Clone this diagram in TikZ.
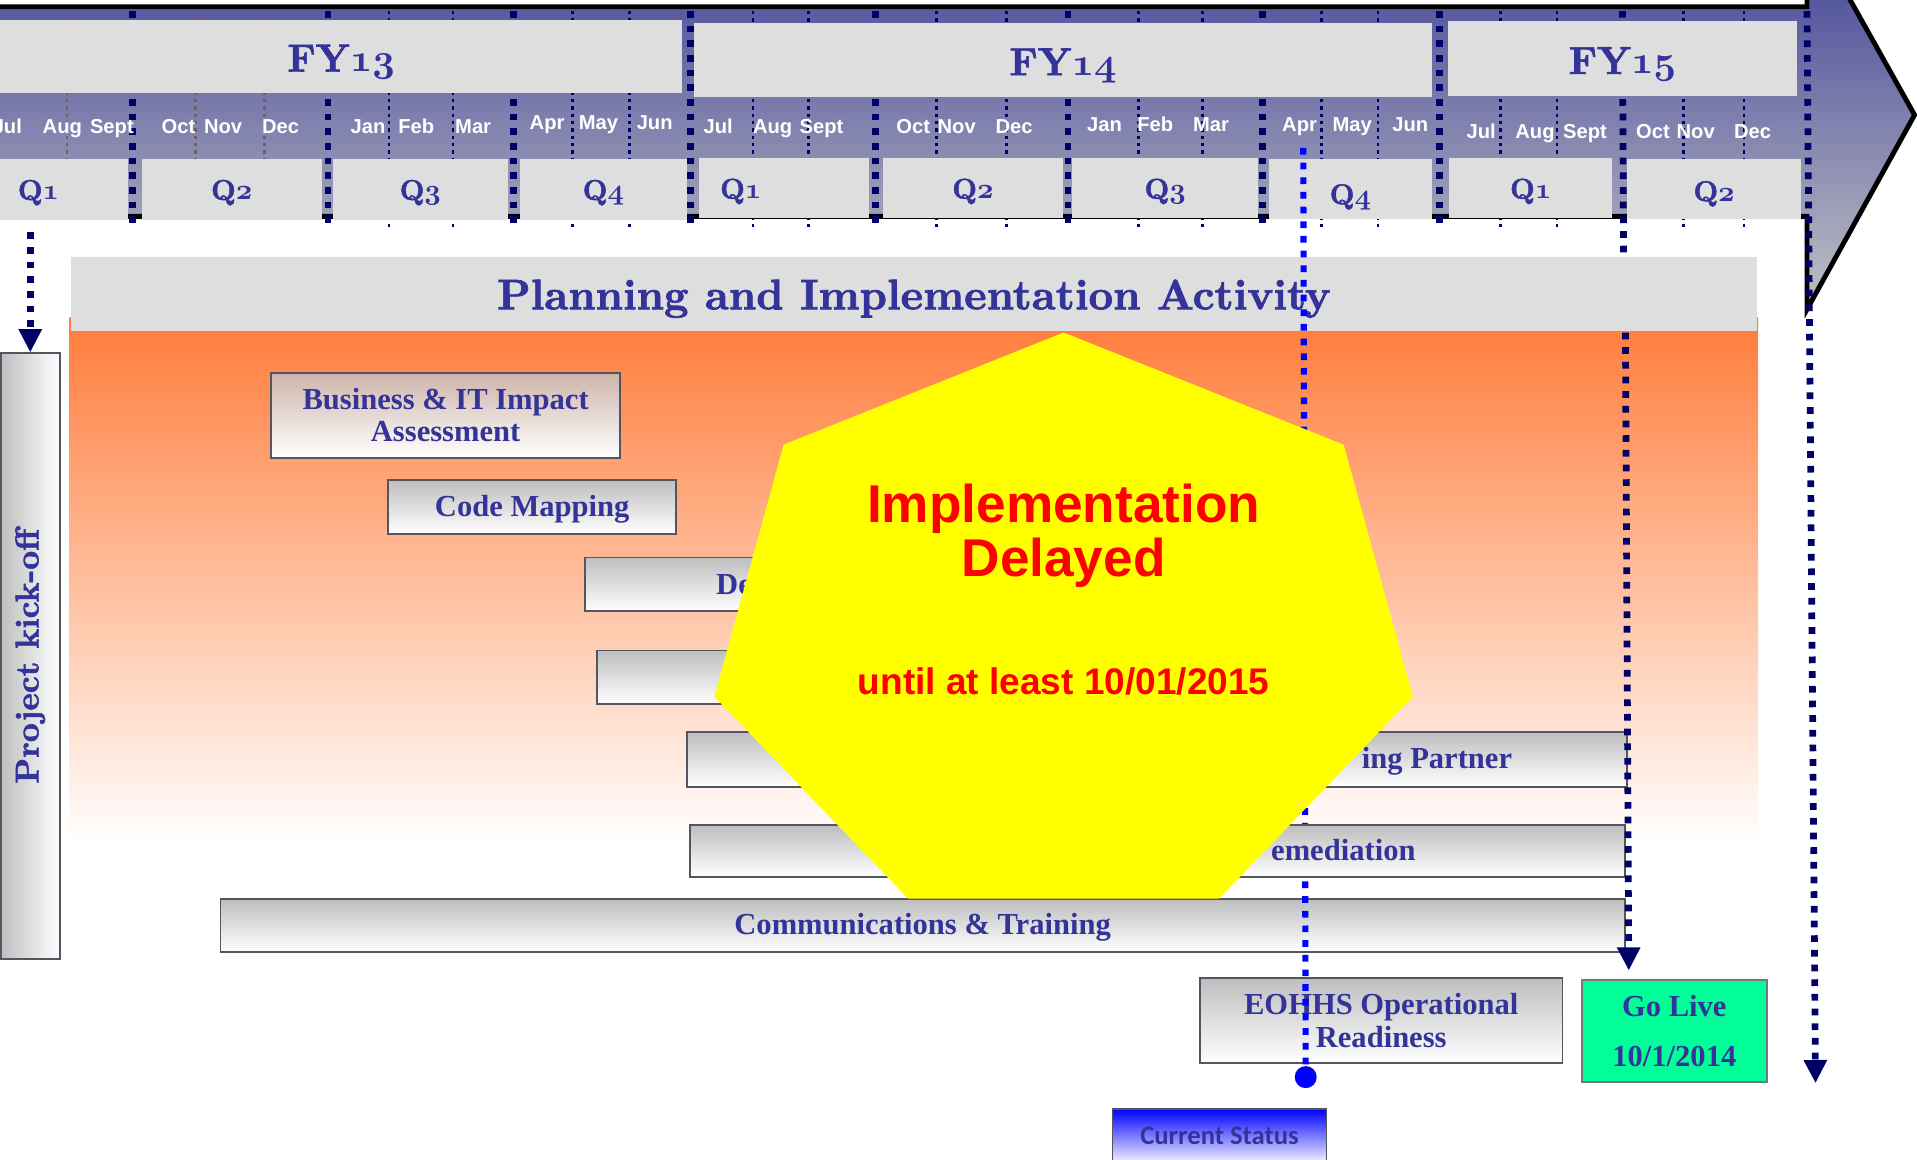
\documentclass[tikz,border=0pt]{standalone}
\usepackage{fontspec}
\usepackage{graphicx}
\usetikzlibrary{arrows.meta}

\newfontfamily\headfont{lmroman10-bold.otf}[FakeBold=1.6]
\newfontfamily\monthfont{Liberation Sans}
\newfontfamily\barfont{Liberation Serif}
\newfontfamily\statusfont{Carlito}
% old style digits, taken from the bold math italic
\font\fyfigures=cmmib10 at 32pt
\font\qfigures=cmmib10 at 23.5pt
\newcommand\fydigits[1]{{\fyfigures #1}}
\newcommand\qdigits[1]{{\qfigures #1}}

\definecolor{navyline}{RGB}{0,0,102}
\definecolor{brownline}{RGB}{112,96,96}
\definecolor{labelblue}{RGB}{51,51,153}
\definecolor{arrowtop}{RGB}{60,62,150}
\definecolor{arrowbottom}{RGB}{192,192,196}
\definecolor{boxgrey}{RGB}{222,222,222}
\definecolor{bartop}{RGB}{190,190,190}
\definecolor{impacttop}{RGB}{205,180,170}
\definecolor{barline}{RGB}{85,85,98}
\definecolor{planorange}{RGB}{255,124,58}
\definecolor{golivegreen}{RGB}{0,255,153}
\definecolor{delayyellow}{RGB}{255,255,0}

\tikzset{
  greybox/.style={fill=boxgrey, inner sep=0pt, text=labelblue,
    font=\headfont\fontsize{32}{34}\selectfont, text height=25pt, text depth=0pt},
  quarterbox/.style={greybox, font=\headfont\fontsize{23.5}{25}\selectfont,
    text height=17pt, minimum height=49pt},
  monthlabel/.style={text=white, font=\monthfont\bfseries\fontsize{16.5}{18}\selectfont,
    anchor=base, inner sep=0pt},
  plainbox/.style={draw=barline, line width=1.5pt, inner sep=0pt, align=center,
    text=labelblue, font=\barfont\bfseries\fontsize{25}{26.5}\selectfont},
  bar/.style={plainbox, top color=bartop, bottom color=white},
  onebar/.style={bar, text height=20pt, text depth=5pt},
  barlabel/.style={text=labelblue, font=\barfont\bfseries\fontsize{25}{26.5}\selectfont,
    inner sep=0pt},
  monthsep/.style={navyline, line width=2.2pt, dash pattern=on 2.7pt off 3.3pt},
  quartersep/.style={navyline, line width=5.5pt, dash pattern=on 5.5pt off 6.5pt},
  statusline/.style={blue, line width=5pt, dash pattern=on 5.5pt off 6.5pt},
  down arrow/.style={-{Triangle[width=18pt,length=19pt]}},
  delaytext/.style={text=red, font=\monthfont\bfseries\fontsize{43.5}{44}\selectfont,
    align=center, anchor=base, inner sep=0pt}
}

\begin{document}
\begin{tikzpicture}[x=1pt, y=-1pt]
  \useasboundingbox (0,0) rectangle (1568,948);
  \clip (0,0) rectangle (1568,948);

  % timeline arrow across the top
  \shadedraw[top color=arrowtop, bottom color=arrowbottom, draw=black,
    line width=4pt, line join=miter]
    (-20,5.5) -- (1478,5.5) -- (1478,-63) -- (1566,94) -- (1478,253)
    -- (1478,177) -- (-20,177) -- cycle;

  % month and quarter separators
  \foreach \x in {54.8,160,216.5}
    \draw[monthsep, brownline] (\x,9) -- (\x,130);
  \foreach \x in {318.3,370.6,468.5,514.9,616,661.5,766,823,931,983.5,1081,1127,1227.5,1273.5,1377,1426.6}
    \draw[monthsep] (\x,9) -- (\x,186);
  \foreach \x in {108.4,268.3,419.8,565,716,873.6,1032.5,1177.5}
    \draw[quartersep] (\x,9) -- (\x,182);
  \draw[quartersep] (1327,9) -- (1328,212);
  \coordinate (fy15 end) at (1478,9);
  \coordinate (timeline end) at (1485,886);
  \draw[quartersep, down arrow] (fy15 end) -- (timeline end);

  % fiscal years
  \node[greybox, minimum width=558pt, minimum height=60pt] (fy13) at (279,46) {FY\fydigits{13}};
  \node[greybox, minimum width=603pt, minimum height=60pt] (fy14) at (869.5,49) {FY\fydigits{14}};
  \node[greybox, minimum width=286pt, minimum height=61pt] (fy15) at (1327,48) {FY\fydigits{15}};

  % quarters
  \node[quarterbox, minimum width=147pt, minimum height=50pt] (fy13q1) at (31.5,155) {Q\qdigits{1}};
  \node[quarterbox, minimum width=147pt, minimum height=50pt] (fy13q2) at (189.5,155) {Q\qdigits{2}};
  \node[quarterbox, minimum width=143.6pt, minimum height=50pt] (fy13q3) at (343.8,155) {Q\qdigits{3}};
  \node[quarterbox, minimum width=137pt, minimum height=50pt] (fy13q4) at (493.5,155) {Q\qdigits{4}};
  \node[quarterbox, minimum width=139pt, text width=105pt, align=left] (fy14q1) at (641.5,154) {Q\qdigits{1}};
  \node[quarterbox, minimum width=147.5pt] (fy14q2) at (795.75,154) {Q\qdigits{2}};
  \node[quarterbox, minimum width=152pt] (fy14q3) at (953,154) {Q\qdigits{3}};
  \node[quarterbox, minimum width=133pt, text height=25pt] (fy14q4) at (1104.5,154.5) {Q\qdigits{4}};
  \node[quarterbox, minimum width=133pt] (fy15q1) at (1252,154) {Q\qdigits{1}};
  \node[quarterbox, minimum width=142pt, text height=20pt] (fy15q2) at (1402,154.5) {Q\qdigits{2}};

  % months
  \foreach \m/\x/\y [count=\i] in {Jul/6/109, Aug/51/109, Sept/91.5/109, Oct/146/109,
      Nov/182.5/109, Dec/229.5/109, Jan/301/109, Feb/340.5/109, Mar/387/109,
      Apr/447.5/106, May/489.5/106, Jun/535.5/106,
      Jul/587.5/109, Aug/632/109, Sept/672/109, Oct/747/109, Nov/782.5/109,
      Dec/829.5/109, Jan/903.5/107.5, Feb/945/107.5, Mar/990.5/107.5,
      Apr/1063/107.5, May/1106/107.5, Jun/1153.5/107.5,
      Jul/1211.5/113, Aug/1255.5/113, Sept/1296.5/113, Oct/1352/113,
      Nov/1387/113, Dec/1433.5/113}
    \node[monthlabel] (month\i) at (\x,\y) {\m};

  % activity area
  \shade[top color=planorange, bottom color=white] (57,260) rectangle (1438,690);
  \node[greybox, minimum width=1379pt, minimum height=61pt,
    font=\headfont\fontsize{35}{37}\selectfont] (plan) at (747.5,240.5)
    {Planning and Implementation Activity};

  \node[plainbox, left color=bartop, right color=white, minimum width=48.5pt,
    minimum height=495.5pt, font=\headfont\fontsize{27}{29}\selectfont]
    (kickoff) at (24.75,536.75) {\rotatebox{90}{Project kick-off}};
  \coordinate (kickoff top) at (24.75,190);
  \draw[quartersep, down arrow] (kickoff top) -- (kickoff.north);

  \node[bar, top color=impacttop, minimum width=285pt, minimum height=69.4pt]
    (impact) at (364.5,339.7) {Business \& IT Impact\\Assessment};
  \node[onebar, minimum width=235.4pt, minimum height=44.2pt] (codemap) at (435.3,414.7) {Code Mapping};
  \node[bar, minimum width=521.6pt, minimum height=44pt] (bar3) at (739.2,478) {};
  \node[barlabel, anchor=base west] (bar3 text) at (585.6,486) {De};
  \node[bar, minimum width=512pt, minimum height=44pt] (bar4) at (744,554) {};
  \node[onebar, minimum width=1148.7pt, minimum height=42.8pt] (comms) at (754.65,757)
    {Communications \& Training};
  \node[bar, minimum width=296.5pt, minimum height=69.8pt] (eohhs) at (1129.75,834.6)
    {EOHHS Operational\\Readiness};
  \node[plainbox, fill=golivegreen, draw=barline!80, minimum width=151pt, minimum height=83.1pt]
    (golive) at (1369.5,843.15) {Go Live\\[14.5pt]10/1/2014};
  \node[plainbox, top color=blue, bottom color=white, minimum width=175pt, minimum height=46pt,
    font=\statusfont\bfseries\fontsize{21.8}{23}\selectfont, text height=13.5pt, text depth=2pt]
    (status) at (997.5,930) {Current Status};

  % where the project stands now
  \node[circle, fill=blue, inner sep=0pt, minimum size=18pt] (now) at (1068,881) {};
  \coordinate (status top) at (1066,121);
  \draw[statusline] (status top) -- (now);

  \node[bar, minimum width=769pt, minimum height=44.5pt] (partner) at (946.5,621.25) {};
  \node[barlabel, anchor=base east] (partner text) at (1237,628.5) {ing Partner};
  \node[bar, minimum width=764.6pt, minimum height=42pt] (remed) at (946.7,696) {};
  \node[barlabel, anchor=base east] (remed text) at (1158,703.5) {emediation};

  \coordinate (golive top) at (1329.5,272);
  \draw[quartersep, down arrow] (golive top) -- ([xshift=39pt, yshift=7pt]golive.north west);

  % delay notice
  \coordinate (delay centre) at (870,515.6);
  \fill[delayyellow] (delay centre) +(-90:293 and 243.6)
    \foreach \k in {1,...,6} { -- +({-90+\k*360/7}:293 and 243.6) } -- cycle;
  \node[delaytext, anchor=center] (delay) at (870,438) {Implementation\\Delayed};
  \node[delaytext, font=\monthfont\bfseries\fontsize{30.3}{32}\selectfont] (until)
    at (870,568) {until at least 10/01/2015};
\end{tikzpicture}
\end{document}
